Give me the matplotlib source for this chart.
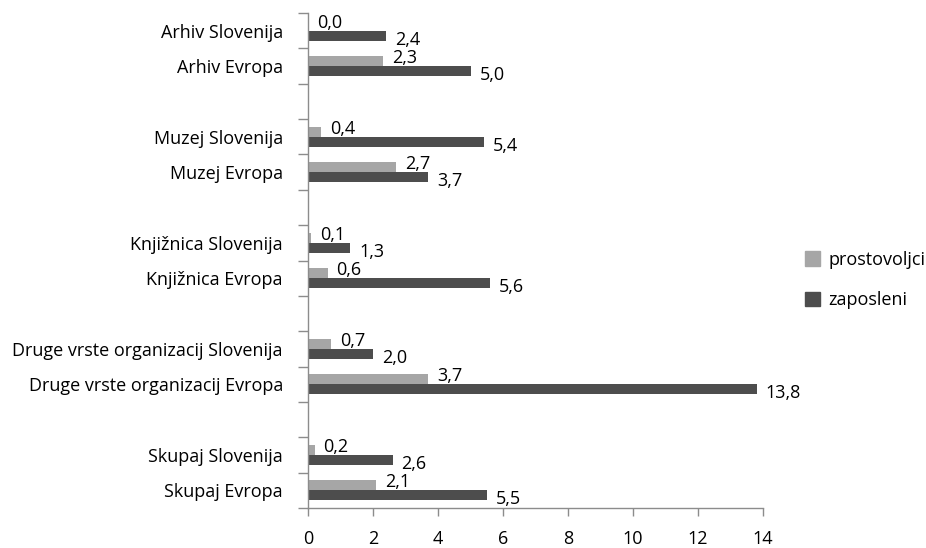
import matplotlib
matplotlib.use("Agg")
import matplotlib.pyplot as plt
from matplotlib.patches import Patch
from matplotlib.ticker import FixedLocator, NullFormatter

plt.rcParams["font.family"] = ["Open Sans", "DejaVu Sans"]

labels = [
    "Arhiv Slovenija", "Arhiv Evropa",
    "Muzej Slovenija", "Muzej Evropa",
    "Knjižnica Slovenija", "Knjižnica Evropa",
    "Druge vrste organizacij Slovenija", "Druge vrste organizacij Evropa",
    "Skupaj Slovenija", "Skupaj Evropa",
]
prostovoljci = [0.0, 2.3, 0.4, 2.7, 0.1, 0.6, 0.7, 3.7, 0.2, 2.1]
zaposleni = [2.4, 5.0, 5.4, 3.7, 1.3, 5.6, 2.0, 13.8, 2.6, 5.5]
x_ticks = [0, 2, 4, 6, 8, 10, 12, 14]

c_light = "#A6A6A6"
c_dark = "#4D4D4D"
spine_c = "#8C8C8C"
fs = 13

# each Slovenija/Evropa pair is followed by an empty slot
pos = [i + i // 2 for i in range(len(labels))]
n_slots = pos[-1] + 1
h = 0.285

fig = plt.figure(figsize=(9.26, 5.48), dpi=100)
ax = fig.add_axes([308 / 926, 1 - 508 / 548, (763 - 308) / 926, (508 - 13) / 548])

ax.barh([p - h / 2 for p in pos], prostovoljci, height=h, color=c_light, label="prostovoljci")
ax.barh([p + h / 2 for p in pos], zaposleni, height=h, color=c_dark, label="zaposleni")

def fmt(v):
    return f"{v:.1f}".replace(".", ",")

for p, v in zip(pos, prostovoljci):
    ax.annotate(fmt(v), (v, p - h / 2), xytext=(9, 3), textcoords="offset pixels",
                ha="left", va="center", fontsize=fs, color="black")
for p, v in zip(pos, zaposleni):
    ax.annotate(fmt(v), (v, p + h / 2), xytext=(9, -4), textcoords="offset pixels",
                ha="left", va="center", fontsize=fs, color="black")

ax.set_xlim(0, 14)
ax.set_ylim(n_slots - 0.5, -0.5)
ax.set_xticks(x_ticks)
ax.set_xticklabels([str(t) for t in x_ticks], fontsize=fs)

# boundary ticks on the category axis, labels centred in each slot
ax.yaxis.set_major_locator(FixedLocator([k - 0.5 for k in range(n_slots + 1)]))
ax.yaxis.set_major_formatter(NullFormatter())
ax.yaxis.set_minor_locator(FixedLocator(pos))
ax.set_yticklabels(labels, minor=True, fontsize=fs)
ax.tick_params(axis="y", which="major", length=7, width=1, color=spine_c, direction="out")
ax.tick_params(axis="y", which="minor", length=0, pad=18)
ax.tick_params(axis="x", which="major", length=6, width=1, color=spine_c, direction="out", pad=10)

for s in ["top", "right"]:
    ax.spines[s].set_visible(False)
for s in ["left", "bottom"]:
    ax.spines[s].set_color(spine_c)
    ax.spines[s].set_linewidth(1)

handles = [Patch(color=c_light, label="prostovoljci"), Patch(color=c_dark, label="zaposleni")]
fig.legend(handles=handles, loc="center left", bbox_to_anchor=(805 / 926, 1 - 280 / 548),
           frameon=False, fontsize=fs, handlelength=0.85, handleheight=0.85,
           handletextpad=0.45, labelspacing=1.25, borderpad=0, borderaxespad=0)

fig.savefig("out.png", dpi=100)
